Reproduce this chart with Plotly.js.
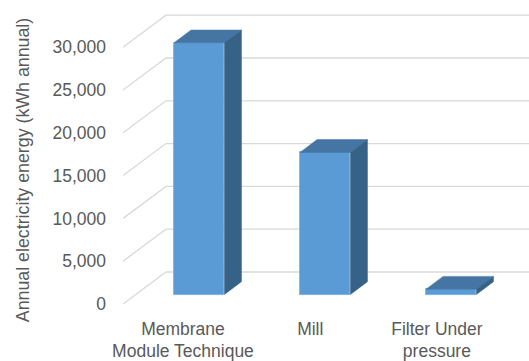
<!DOCTYPE html>
<html>
<head>
<meta charset="utf-8">
<script src="https://cdn.plot.ly/plotly-3.0.1.min.js"></script>
<style>html,body{margin:0;padding:0;background:#fff}#chart{width:529px;height:361px}</style>
</head>
<body>
<div id="chart"></div>
<script>
// Annual electricity use per filtration technique
const categories = ["Membrane<br>Module Technique", "Mill", "Filter Under<br>pressure"];
const energyKwh = [29400, 16600, 620];
const yTicks = [0, 5000, 10000, 15000, 20000, 25000, 30000];
const yTickLabels = ["0", "5,000", "10,000", "15,000", "20,000", "25,000", "30,000"];
const yTitle = "Annual electricity energy (kWh annual)";

// Oblique projection of the floor, expressed in axis units
const wallDx = 0.341, wallDy = 3738;      // front edge of the floor to the back wall
const barOffsetX = 0.129, barOffsetY = 1110; // front face of a column relative to its tick
const barWidth = 0.40;
const barDepthX = 0.135, barDepthY = 1495;   // extrusion of a column
const xMin = -0.476, xMax = 2.746;

// Floor edge and back wall line for each tick value, kept beneath the columns
const wallLines = yTicks.map(v => ({
  type: "path", layer: "below", xref: "x", yref: "y",
  path: `M ${xMin} ${v} L ${xMin + wallDx} ${v + wallDy} L ${xMax} ${v + wallDy}`,
  line: {color: "#d9d9d9", width: 1.3}
}));

const traces = [];

// Column faces
const xs = categories.map((_, i) => i + barOffsetX);
traces.push({
  type: "bar", x: xs, y: energyKwh, base: energyKwh.map(() => barOffsetY),
  width: barWidth, hoverinfo: "skip", showlegend: false,
  marker: {color: "#5b9bd5", line: {color: "#6ea8dc", width: 0.8}}
});

energyKwh.forEach((v, i) => {
  const l = xs[i] - barWidth / 2, r = xs[i] + barWidth / 2;
  const b = barOffsetY, t = barOffsetY + v;
  // Top face
  traces.push({
    type: "scatter", mode: "lines", fill: "toself", hoverinfo: "skip", showlegend: false,
    x: [l, r, r + barDepthX, l + barDepthX, l],
    y: [t, t, t + barDepthY, t + barDepthY, t],
    line: {color: "#4575a3", width: 0.5}, fillcolor: "#4575a3"
  });
  // Side face
  traces.push({
    type: "scatter", mode: "lines", fill: "toself", hoverinfo: "skip", showlegend: false,
    x: [r, r + barDepthX, r + barDepthX, r, r],
    y: [b, b + barDepthY, t + barDepthY, t, b],
    line: {color: "#376287", width: 0.5}, fillcolor: "#376287"
  });
});

const layout = {
  width: 529, height: 361,
  margin: {l: 123, r: 0, t: 0, b: 21},
  paper_bgcolor: "#fff", plot_bgcolor: "#fff",
  font: {family: "Liberation Sans, Arial, sans-serif", size: 17.5, color: "#595959"},
  showlegend: false,
  shapes: wallLines,
  xaxis: {
    range: [xMin, xMax], showgrid: false, zeroline: false, showline: false,
    tickmode: "array", tickvals: [0, 1.01, 2.015], ticktext: categories,
    ticks: "", ticklen: 0, tickangle: 0, anchor: "free", position: 0.07,
    tickfont: {size: 17.5, color: "#595959"}
  },
  yaxis: {
    range: [-4206, 35514], showgrid: false, zeroline: false, showline: false,
    tickmode: "array", tickvals: yTicks, ticktext: yTickLabels,
    ticks: "", ticklen: 0, ticklabelstandoff: 16,
    tickfont: {size: 17.5, color: "#595959"},
    title: {text: yTitle, font: {size: 17.8, color: "#595959"}, standoff: 18}
  },
  bargap: 0
};

Plotly.newPlot("chart", traces, layout, {displayModeBar: false, responsive: false});
</script>
</body>
</html>
